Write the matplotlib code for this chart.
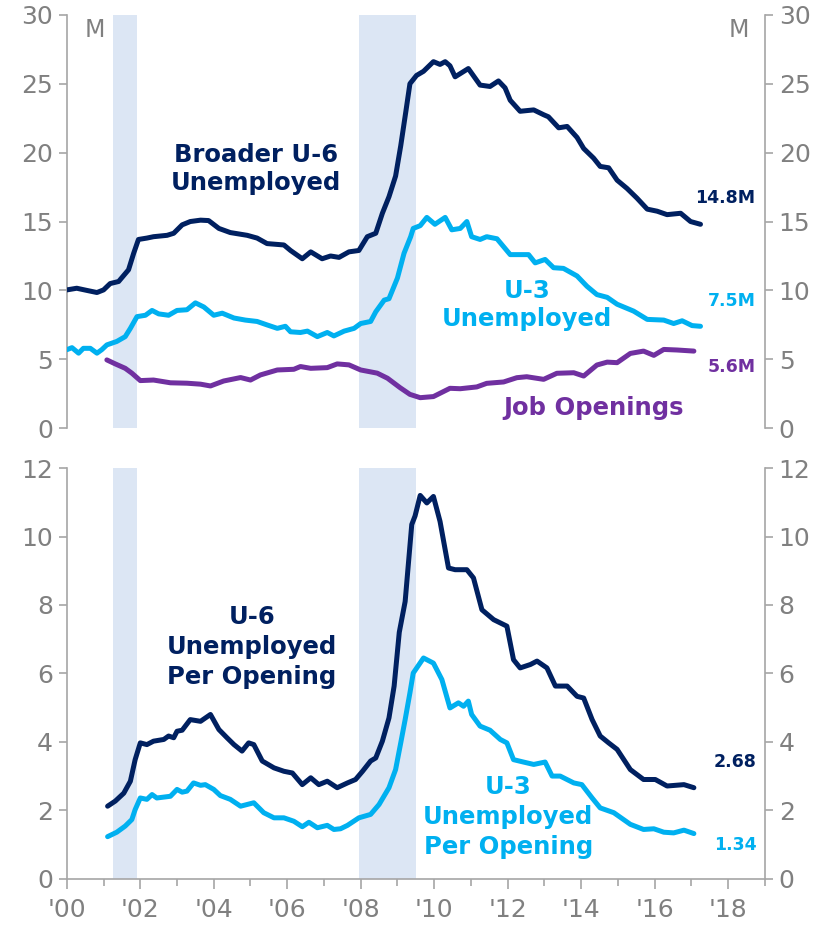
import matplotlib
matplotlib.use("Agg")
import matplotlib.pyplot as plt
from matplotlib.ticker import MultipleLocator, FixedLocator

plt.rcParams['font.family'] = ['DejaVu Sans']

# ---------------- data ----------------
recessions = [(2001.25, 2001.92), (2007.95, 2009.50)]

u6_years = [2000.00, 2000.27, 2000.55, 2000.82, 2001.00, 2001.18, 2001.41, 2001.68, 2001.82, 2001.95,
            2002.18, 2002.36, 2002.73, 2002.91, 2003.14, 2003.36, 2003.64, 2003.86, 2004.14, 2004.45,
            2004.91, 2005.18, 2005.45, 2005.91, 2006.09, 2006.41, 2006.64, 2006.95, 2007.18, 2007.41,
            2007.68, 2007.95, 2008.18, 2008.41, 2008.59, 2008.77, 2008.95, 2009.09, 2009.23, 2009.34,
            2009.52, 2009.71, 2009.98, 2010.16, 2010.30, 2010.43, 2010.57, 2010.93, 2011.25, 2011.52,
            2011.75, 2011.93, 2012.07, 2012.34, 2012.71, 2012.98, 2013.11, 2013.39, 2013.62, 2013.89,
            2014.07, 2014.34, 2014.52, 2014.75, 2014.98, 2015.25, 2015.52, 2015.80, 2016.07, 2016.34,
            2016.71, 2016.98, 2017.25]
u6_vals = [10.04, 10.16, 10.0, 9.85, 10.04, 10.5, 10.65, 11.5, 12.7, 13.7,
           13.8, 13.9, 14.0, 14.15, 14.76, 15.0, 15.1, 15.07, 14.5, 14.2,
           14.0, 13.8, 13.4, 13.3, 12.9, 12.3, 12.8, 12.3, 12.5, 12.4,
           12.8, 12.9, 13.9, 14.15, 15.6, 16.8, 18.3, 20.5, 23.0, 25.0,
           25.6, 25.9, 26.6, 26.4, 26.6, 26.3, 25.5, 26.1, 24.9, 24.8,
           25.2, 24.7, 23.8, 23.0, 23.1, 22.75, 22.6, 21.8, 21.9, 21.1,
           20.3, 19.6, 19.0, 18.9, 18.0, 17.4, 16.7, 15.9, 15.75, 15.5,
           15.6, 15.0, 14.8]

u3_years = [2000.00, 2000.14, 2000.32, 2000.45, 2000.64, 2000.82, 2000.95, 2001.09, 2001.36, 2001.59,
            2001.73, 2001.91, 2002.14, 2002.32, 2002.50, 2002.77, 2003.00, 2003.27, 2003.50, 2003.73,
            2004.00, 2004.23, 2004.55, 2004.86, 2005.18, 2005.45, 2005.73, 2005.95, 2006.09, 2006.36,
            2006.55, 2006.82, 2007.09, 2007.27, 2007.55, 2007.82, 2008.00, 2008.27, 2008.41, 2008.64,
            2008.77, 2009.00, 2009.18, 2009.36, 2009.43, 2009.62, 2009.80, 2010.02, 2010.30, 2010.48,
            2010.71, 2010.89, 2011.02, 2011.25, 2011.43, 2011.71, 2012.07, 2012.34, 2012.57, 2012.75,
            2013.02, 2013.25, 2013.52, 2013.89, 2014.16, 2014.43, 2014.71, 2014.98, 2015.43, 2015.80,
            2016.25, 2016.52, 2016.75, 2017.02, 2017.25]
u3_vals = [5.7, 5.85, 5.45, 5.8, 5.8, 5.45, 5.7, 6.05, 6.3, 6.65,
           7.25, 8.1, 8.2, 8.55, 8.3, 8.2, 8.55, 8.6, 9.1, 8.8,
           8.2, 8.35, 8.0, 7.85, 7.75, 7.5, 7.25, 7.4, 7.0, 6.95,
           7.05, 6.65, 6.95, 6.7, 7.05, 7.25, 7.6, 7.75, 8.45, 9.3,
           9.4, 10.9, 12.7, 13.9, 14.5, 14.7, 15.3, 14.8, 15.3, 14.4,
           14.5, 15.0, 13.9, 13.7, 13.9, 13.75, 12.6, 12.6, 12.6, 12.0,
           12.25, 11.65, 11.6, 11.05, 10.3, 9.7, 9.5, 9.0, 8.5, 7.9,
           7.85, 7.6, 7.8, 7.45, 7.4]

jo_years = [2001.09, 2001.32, 2001.59, 2001.77, 2002.00, 2002.36, 2002.82, 2003.27, 2003.64, 2003.91,
            2004.27, 2004.73, 2005.00, 2005.27, 2005.73, 2006.18, 2006.36, 2006.64, 2007.09, 2007.36,
            2007.68, 2008.00, 2008.45, 2008.73, 2009.07, 2009.34, 2009.62, 2009.98, 2010.43, 2010.71,
            2011.16, 2011.43, 2011.89, 2012.25, 2012.52, 2012.98, 2013.34, 2013.80, 2014.07, 2014.43,
            2014.71, 2014.98, 2015.34, 2015.70, 2015.98, 2016.25, 2016.61, 2017.07]
jo_vals = [4.96, 4.67, 4.35, 4.0, 3.46, 3.5, 3.3, 3.27, 3.2, 3.07,
           3.43, 3.68, 3.5, 3.87, 4.23, 4.28, 4.48, 4.35, 4.4, 4.67,
           4.6, 4.23, 4.0, 3.63, 2.95, 2.46, 2.22, 2.3, 2.9, 2.87,
           3.0, 3.26, 3.36, 3.67, 3.74, 3.55, 3.99, 4.03, 3.79, 4.59,
           4.8, 4.76, 5.43, 5.6, 5.29, 5.72, 5.68, 5.6]

r6_years = [2001.11, 2001.32, 2001.55, 2001.73, 2001.86, 2002.00, 2002.18, 2002.36, 2002.64, 2002.77,
            2002.91, 2003.00, 2003.14, 2003.36, 2003.64, 2003.91, 2004.14, 2004.36, 2004.55, 2004.77,
            2004.95, 2005.09, 2005.32, 2005.64, 2005.91, 2006.14, 2006.41, 2006.64, 2006.86, 2007.09,
            2007.36, 2007.64, 2007.86, 2008.05, 2008.27, 2008.41, 2008.59, 2008.77, 2008.91, 2009.05,
            2009.21, 2009.39, 2009.48, 2009.62, 2009.80, 2009.98, 2010.16, 2010.39, 2010.57, 2010.89,
            2011.07, 2011.30, 2011.62, 2011.98, 2012.16, 2012.34, 2012.62, 2012.80, 2013.07, 2013.30,
            2013.62, 2013.89, 2014.07, 2014.30, 2014.52, 2014.75, 2014.98, 2015.34, 2015.70, 2016.02,
            2016.34, 2016.80, 2017.07]
r6_vals = [2.12, 2.27, 2.5, 2.85, 3.48, 3.97, 3.92, 4.02, 4.07, 4.17,
           4.12, 4.31, 4.34, 4.65, 4.6, 4.8, 4.36, 4.12, 3.92, 3.73,
           3.97, 3.92, 3.44, 3.24, 3.14, 3.09, 2.75, 2.95, 2.75, 2.85,
           2.66, 2.8, 2.9, 3.14, 3.44, 3.53, 4.02, 4.7, 5.63, 7.2,
           8.1, 10.35, 10.6, 11.2, 10.98, 11.17, 10.44, 9.08, 9.03, 9.03,
           8.79, 7.86, 7.57, 7.38, 6.4, 6.16, 6.26, 6.36, 6.16, 5.63,
           5.63, 5.33, 5.28, 4.65, 4.17, 3.97, 3.78, 3.19, 2.9, 2.9,
           2.71, 2.75, 2.66]

r3_years = [2001.11, 2001.36, 2001.59, 2001.77, 2001.86, 2002.00, 2002.18, 2002.32, 2002.45, 2002.82,
            2003.00, 2003.14, 2003.27, 2003.45, 2003.64, 2003.77, 2004.00, 2004.18, 2004.45, 2004.73,
            2005.09, 2005.36, 2005.64, 2005.91, 2006.18, 2006.41, 2006.59, 2006.82, 2007.09, 2007.27,
            2007.45, 2007.64, 2007.95, 2008.27, 2008.50, 2008.77, 2008.95, 2009.09, 2009.21, 2009.34,
            2009.43, 2009.71, 2009.98, 2010.21, 2010.43, 2010.66, 2010.80, 2010.93, 2011.02, 2011.25,
            2011.52, 2011.80, 2011.98, 2012.16, 2012.43, 2012.71, 2013.02, 2013.21, 2013.43, 2013.80,
            2014.02, 2014.30, 2014.52, 2014.89, 2015.34, 2015.70, 2015.98, 2016.25, 2016.52, 2016.80,
            2017.07]
r3_vals = [1.23, 1.36, 1.54, 1.73, 2.02, 2.36, 2.32, 2.46, 2.36, 2.41,
           2.61, 2.53, 2.56, 2.8, 2.73, 2.75, 2.61, 2.43, 2.32, 2.12,
           2.22, 1.93, 1.78, 1.78, 1.68, 1.52, 1.65, 1.49, 1.56, 1.44,
           1.46, 1.56, 1.78, 1.88, 2.17, 2.66, 3.19, 3.97, 4.65, 5.43,
           6.01, 6.45, 6.3, 5.82, 4.99, 5.14, 5.04, 5.19, 4.8, 4.46,
           4.34, 4.07, 3.97, 3.48, 3.41, 3.34, 3.41, 3.0, 3.0, 2.8,
           2.75, 2.36, 2.07, 1.93, 1.59, 1.44, 1.46, 1.36, 1.34, 1.42,
           1.32]

x_tick_years = list(range(2000, 2019, 2))
x_tick_labels = ["'00", "'02", "'04", "'06", "'08", "'10", "'12", "'14", "'16", "'18"]

# ---------------- style ----------------
NAVY = '#002060'
CYAN = '#00B0F0'
PURPLE = '#7030A0'
SHADE = '#DCE6F4'
GRAY = '#808080'
SPINE = '#A6A6A6'
LW = 3.6

fig = plt.figure(figsize=(8.25, 9.25), dpi=100)
ax1 = fig.add_axes([0.081, 0.537, 0.846, 0.447])
ax2 = fig.add_axes([0.081, 0.050, 0.846, 0.444])


def style_axis(ax, ymax, ystep, show_x):
    ax.set_xlim(2000, 2019)
    ax.set_ylim(0, ymax)
    ax.spines['top'].set_visible(False)
    for s in ['left', 'right', 'bottom']:
        ax.spines[s].set_color(SPINE)
        ax.spines[s].set_linewidth(1.2)
    ax.yaxis.set_major_locator(MultipleLocator(ystep))
    ax.tick_params(axis='y', which='both', left=True, right=True, labelleft=True, labelright=True,
                   direction='out', length=6, width=1.2, color=SPINE, labelcolor=GRAY,
                   labelsize=18, pad=4)
    if show_x:
        ax.xaxis.set_major_locator(FixedLocator(x_tick_years))
        ax.set_xticklabels(x_tick_labels)
        ax.xaxis.set_minor_locator(MultipleLocator(1))
        ax.tick_params(axis='x', which='major', direction='out', length=7, width=1.2,
                       color=SPINE, labelcolor=GRAY, labelsize=18, pad=7)
        ax.tick_params(axis='x', which='minor', direction='out', length=5, width=1.2, color=SPINE)
    else:
        ax.spines['bottom'].set_visible(False)
        ax.tick_params(axis='x', which='both', bottom=False, labelbottom=False)
    for a, b in recessions:
        ax.axvspan(a, b, color=SHADE, lw=0, zorder=0)


style_axis(ax1, 30, 5, False)
style_axis(ax2, 12, 2, True)

kw = dict(lw=LW, solid_capstyle='round', solid_joinstyle='round', zorder=3)
ax1.plot(u6_years, u6_vals, color=NAVY, **kw)
ax1.plot(u3_years, u3_vals, color=CYAN, **kw)
ax1.plot(jo_years, jo_vals, color=PURPLE, **kw)
ax2.plot(r6_years, r6_vals, color=NAVY, **kw)
ax2.plot(r3_years, r3_vals, color=CYAN, **kw)

# unit labels
ax1.text(2000.76, 28.9, 'M', color=GRAY, fontsize=17, ha='center', va='center')
ax1.text(2018.28, 28.9, 'M', color=GRAY, fontsize=17, ha='center', va='center')

LBL = 17.5
# series labels - top
ax1.text(2005.15, 18.8, 'Broader U-6\nUnemployed', color=NAVY, fontsize=LBL, fontweight='bold',
         ha='center', va='center', linespacing=1.2)
ax1.text(2012.53, 8.95, 'U-3\nUnemployed', color=CYAN, fontsize=LBL, fontweight='bold',
         ha='center', va='center', linespacing=1.2)
ax1.text(2014.33, 1.5, 'Job Openings', color=PURPLE, fontsize=LBL, fontweight='bold',
         ha='center', va='center')
ax1.text(2018.75, 16.7, '14.8M', color=NAVY, fontsize=12.5, fontweight='bold', ha='right', va='center')
ax1.text(2018.75, 9.2, '7.5M', color=CYAN, fontsize=12.5, fontweight='bold', ha='right', va='center')
ax1.text(2018.75, 4.45, '5.6M', color=PURPLE, fontsize=12.5, fontweight='bold', ha='right', va='center')

# series labels - bottom
ax2.text(2005.04, 6.77, 'U-6\nUnemployed\nPer Opening', color=NAVY, fontsize=LBL, fontweight='bold',
         ha='center', va='center', linespacing=1.3)
ax2.text(2012.02, 1.8, 'U-3\nUnemployed\nPer Opening', color=CYAN, fontsize=LBL, fontweight='bold',
         ha='center', va='center', linespacing=1.3)
ax2.text(2018.77, 3.42, '2.68', color=NAVY, fontsize=12.5, fontweight='bold', ha='right', va='center')
ax2.text(2018.77, 0.99, '1.34', color=CYAN, fontsize=12.5, fontweight='bold', ha='right', va='center')

fig.savefig('out.png', dpi=100)
